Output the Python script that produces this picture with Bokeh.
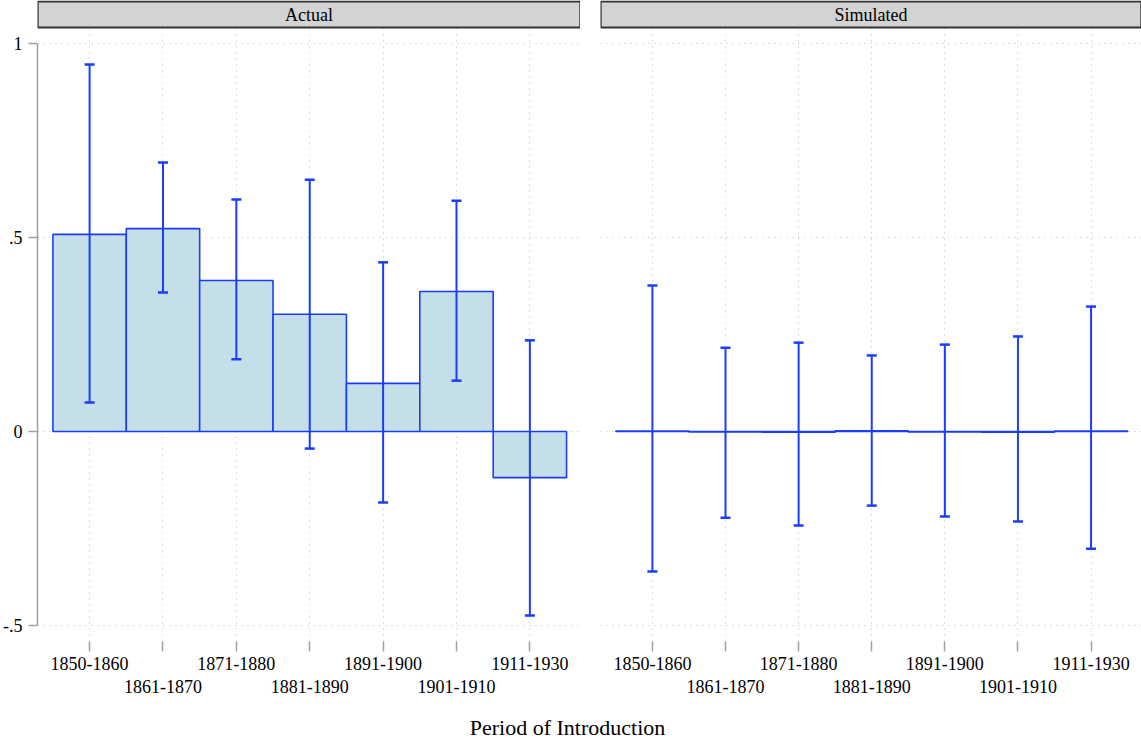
from bokeh.plotting import figure
from bokeh.layouts import row, column
from bokeh.models import (ColumnDataSource, FixedTicker, Whisker, TeeHead, Grid,
                          LinearAxis, Label, Range1d)
from bokeh.core.properties import value
from bokeh.embed import file_html
from bokeh.resources import INLINE

# ---------------- data ----------------
periods = ["1850-1860", "1861-1870", "1871-1880", "1881-1890",
           "1891-1900", "1901-1910", "1911-1930"]
actual_mean = [0.508, 0.523, 0.389, 0.302, 0.124, 0.361, -0.119]
actual_upper = [0.946, 0.693, 0.598, 0.649, 0.436, 0.595, 0.235]
actual_lower = [0.075, 0.358, 0.186, -0.044, -0.183, 0.131, -0.474]
sim_mean = [0.001, -0.001, -0.002, 0.002, -0.001, -0.002, 0.001]
sim_upper = [0.376, 0.216, 0.229, 0.196, 0.224, 0.245, 0.322]
sim_lower = [-0.361, -0.222, -0.242, -0.191, -0.219, -0.232, -0.302]
y_ticks = [-0.5, 0, 0.5, 1]
y_labels = ["-.5", "0", ".5", "1"]
panel_titles = ["Actual", "Simulated"]
x_title = "Period of Introduction"

FONT = "Liberation Serif"
BLUE = "#1a3dfb"
FILL = "#c5dfe9"
GRID = "#bdbdbd"
AXIS = "#a0a0a0"

xs = list(range(1, len(periods) + 1))
x_over = {}
for i, lab in zip(xs, periods):
    x_over[i] = lab if i % 2 == 1 else "\n" + lab

# vertical scale: frame 641 px tall, y=1 at 43 px, y=0 at 431 px
PX = 388.0
Y_TOP = 1 + 43 / PX
Y_BOT = -(641 - 431) / PX
X0, X1 = 0.29, 7.69


def panel(title, means, upper, lower, left_axis, width, border_left):
    p = figure(width=width, height=700, x_range=Range1d(X0, X1),
               y_range=Range1d(Y_BOT, Y_TOP), toolbar_location=None,
               output_backend="svg", x_axis_location=None, y_axis_location=None,
               min_border_left=border_left, min_border_right=0,
               min_border_top=0, min_border_bottom=59,
               outline_line_color=None, background_fill_color="white",
               border_fill_color="white")
    p.renderers = []
    p.center = [g for g in p.center if not isinstance(g, Grid)]
    gx = Grid(dimension=0, ticker=FixedTicker(ticks=xs), grid_line_color=GRID,
              grid_line_dash="1 5", grid_line_width=1)
    gy = Grid(dimension=1, ticker=FixedTicker(ticks=y_ticks), grid_line_color=GRID,
              grid_line_dash="1 5", grid_line_width=1)
    p.add_layout(gx)
    p.add_layout(gy)

    # x axis (ticks + staggered labels, no line)
    xa = LinearAxis(ticker=FixedTicker(ticks=xs), major_label_overrides=x_over,
                    axis_line_color=None, major_tick_line_color=AXIS,
                    major_tick_line_width=1.5,
                    major_tick_in=0, major_tick_out=10, minor_tick_line_color=None,
                    major_label_text_font=FONT, major_label_text_font_size="18px",
                    major_label_text_color="black", major_label_standoff=2,
                    major_label_text_line_height=1.15)
    p.add_layout(xa, "below")

    if left_axis:
        ya = LinearAxis(ticker=FixedTicker(ticks=y_ticks),
                        major_label_overrides=dict(zip(y_ticks, y_labels)),
                        bounds=(min(y_ticks), max(y_ticks)),
                        axis_line_color=AXIS, axis_line_width=1.5,
                        major_tick_line_color=AXIS, major_tick_line_width=1.5,
                        major_tick_in=0, major_tick_out=9, minor_tick_line_color=None,
                        major_label_text_font=FONT, major_label_text_font_size="18px",
                        major_label_text_color="black", major_label_standoff=6)
        p.add_layout(ya, "left")

    src = ColumnDataSource(dict(x=xs, top=means, upper=upper, lower=lower))
    p.vbar(x="x", top="top", bottom=0, width=1.0, source=src,
           fill_color=FILL, line_color=BLUE, line_width=1.6)
    w = Whisker(base="x", upper="upper", lower="lower", source=src,
                line_color=BLUE, line_width=2,
                upper_head=TeeHead(size=10, line_color=BLUE, line_width=2.5),
                lower_head=TeeHead(size=10, line_color=BLUE, line_width=2.5))
    w.level = "overlay"
    p.add_layout(w)

    # panel header strip
    h_top = 1 + 42 / PX
    h_bot = 1 + 16 / PX
    p.quad(left=[X0 + 0.004], right=[X1 - 0.004], top=[h_top], bottom=[h_bot],
           fill_color="#d3d3d3", line_color="#333333", line_width=1.8)
    p.text(x=[(X0 + X1) / 2], y=[1 + 29 / PX], text=[title],
           text_font=value(FONT), text_font_size="18px", text_color="black",
           text_align="center", text_baseline="middle")
    return p


left = panel(panel_titles[0], actual_mean, actual_upper, actual_lower, True, 580, 37)
right = panel(panel_titles[1], sim_mean, sim_upper, sim_lower, False, 561, 20)

t = figure(width=1141, height=40, x_range=Range1d(0, 1141), y_range=Range1d(0, 40),
           toolbar_location=None, output_backend="svg", x_axis_location=None,
           y_axis_location=None, min_border=0, outline_line_color=None)
t.grid.visible = False
t.add_layout(Label(x=567, y=13, text=x_title, text_font=FONT, text_font_size="22px",
                   text_color="black", text_align="center", text_baseline="middle"))

layout = column(row(left, right), t)
open("out.html", "w").write(file_html(layout, INLINE))
